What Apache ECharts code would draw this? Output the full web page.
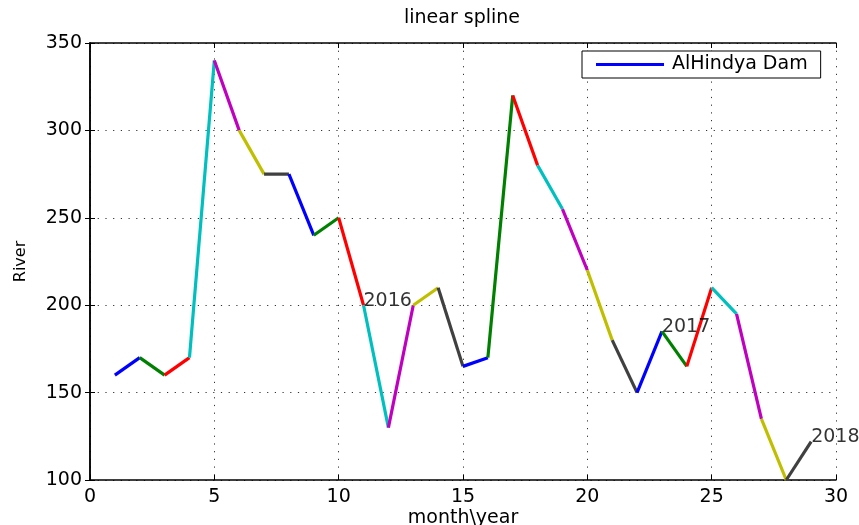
<!DOCTYPE html>
<html>
<head>
<meta charset="utf-8">
<script src="https://cdn.jsdelivr.net/npm/echarts@6/dist/echarts.min.js"></script>
<style>html,body{margin:0;padding:0;background:#fff}#c{width:859px;height:525px}</style>
</head>
<body>
<div id="c"></div>
<script>
// month index
var months = [1,2,3,4,5,6,7,8,9,10,11,12,13,14,15,16,17,18,19,20,21,22,23,24,25,26,27,28,29];
// river flow values
var river = [160,170,160,170,340,300,275,275,240,250,200,130,200,210,165,170,320,280,255,220,180,150,185,165,210,195,135,100,122];
// year annotations
var yearMonths = [11,23,29];
var yearValues = [200,185,122];
var yearTexts = ['2016','2017','2018'];
var xTicks = [0,5,10,15,20,25,30];
var yTicks = [100,150,200,250,300,350];
var segColors = ['#0000ff','#008000','#ff0000','#00bfbf','#bf00bf','#bfbf00','#404040'];
var seriesName = 'AlHindya Dam';

var FONT = 'DejaVu Sans';
var chart = echarts.init(document.getElementById('c'));
var series = [];
for (var i = 0; i < months.length - 1; i++) {
  var col = segColors[i % segColors.length];
  series.push({
    type: 'line',
    name: i === 0 ? seriesName : 'seg' + i,
    data: [[months[i], river[i]], [months[i+1], river[i+1]]],
    symbol: 'none',
    lineStyle: {color: col, width: 3.2},
    itemStyle: {color: col},
    z: 3
  });
}
series.push({
  type: 'scatter',
  name: 'years',
  symbolSize: 0,
  data: yearMonths.map(function(m, k){ return {value: [m, yearValues[k]], label: {formatter: yearTexts[k], color: '#000'}}; }),
  label: {show: true, position: 'right', distance: 0, offset: [0, -4], color: '#000', fontFamily: FONT, fontSize: 19},
  z: 5
});

var axisCommon = {
  axisLine: {show: true, lineStyle: {color: '#000', width: 1.5}},
  axisTick: {show: true, inside: true, length: 5, lineStyle: {color: '#000', width: 1}},
};

chart.setOption({
  animation: false,
  backgroundColor: '#fff',
  title: {
    text: 'linear spline', left: 462, top: 9, textAlign: 'center', padding: 0,
    textStyle: {fontFamily: FONT, fontSize: 19, fontWeight: 'normal', color: '#000'}
  },
  legend: {
    data: [seriesName],
    left: 582, top: 51,
    padding: [4, 13, 4, 14],
    backgroundColor: '#fff',
    borderColor: '#000', borderWidth: 1, borderRadius: 0,
    icon: 'rect', itemWidth: 68, itemHeight: 3,
    textStyle: {fontFamily: FONT, fontSize: 19, color: '#000', padding: [0, 0, 0, 3]}
  },
  grid: {left: 90, right: 23, top: 43, bottom: 45, containLabel: false, outerBoundsMode: 'none'},
  xAxis: [
    Object.assign({
      type: 'value', min: xTicks[0], max: xTicks[xTicks.length-1], interval: 5, position: 'bottom',
      name: 'month\\year', nameLocation: 'middle', nameGap: 29, nameMoveOverlap: false,
      nameTextStyle: {fontFamily: FONT, fontSize: 19, color: '#000'},
      axisLabel: {fontFamily: FONT, fontSize: 19, color: '#000', margin: 8},
      splitLine: {show: true, lineStyle: {color: '#333', type: [1.2, 6.5], width: 1}}
    }, axisCommon),
    Object.assign({
      type: 'value', min: xTicks[0], max: xTicks[xTicks.length-1], interval: 5, position: 'top',
      axisLabel: {show: false}, splitLine: {show: false}
    }, axisCommon)
  ],
  yAxis: [
    Object.assign({
      type: 'value', min: yTicks[0], max: yTicks[yTicks.length-1], interval: 50, position: 'left',
      name: 'River', nameLocation: 'middle', nameGap: 61, nameRotate: 90, nameMoveOverlap: false,
      nameTextStyle: {fontFamily: FONT, fontSize: 16, color: '#000'},
      axisLabel: {fontFamily: FONT, fontSize: 19, color: '#000', margin: 8},
      splitLine: {show: true, lineStyle: {color: '#333', type: [1.2, 6.5], width: 1}}
    }, axisCommon),
    Object.assign({
      type: 'value', min: yTicks[0], max: yTicks[yTicks.length-1], interval: 50, position: 'right',
      axisLabel: {show: false}, splitLine: {show: false}
    }, axisCommon)
  ],
  series: series
});
</script>
</body>
</html>
